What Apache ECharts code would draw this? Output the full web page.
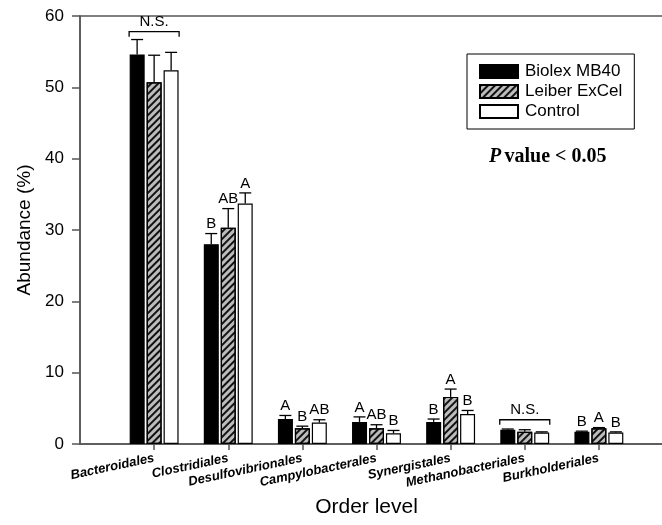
<!DOCTYPE html>
<html><head><meta charset="utf-8">
<script src="https://cdn.jsdelivr.net/npm/echarts@6/dist/echarts.min.js"></script>
<style>html,body{margin:0;padding:0;background:#fff}#c{width:662px;height:525px}</style>
</head><body><div id="c"></div>
<script>
var categories = ['Bacteroidales','Clostridiales','Desulfovibrionales','Campylobacterales','Synergistales','Methanobacteriales','Burkholderiales'];
var seriesNames = ['Biolex MB40','Leiber ExCel','Control'];
var biolex = [54.6, 28.0, 3.5, 3.1, 3.1, 2.0, 1.7];
var leiber = [50.7, 30.3, 2.2, 2.2, 6.6, 1.7, 2.2];
var control = [52.4, 33.7, 3.0, 1.5, 4.2, 1.6, 1.6];
var biolexErr = [2.1, 1.5, 0.5, 0.7, 0.4, 0.1, 0.1];
var leiberErr = [3.8, 2.7, 0.3, 0.5, 1.1, 0.3, 0.1];
var controlErr = [2.5, 1.5, 0.4, 0.4, 0.5, 0.1, 0.1];
var biolexLetters = ['', 'B', 'A', 'A', 'B', '', 'B'];
var leiberLetters = ['', 'AB', 'B', 'AB', 'A', '', 'A'];
var controlLetters = ['', 'A', 'AB', 'B', 'B', '', 'B'];
var nsGroups = [0, 5];
var nsLevels = [57.8, 3.4];
var yTicks = [0, 10, 20, 30, 40, 50, 60];

var axisCats = [''].concat(categories).concat(['']);
function pad(a){ return [null].concat(a).concat([null]); }

var chart = echarts.init(document.getElementById('c'));
var vals = [biolex, leiber, control];
var errs = [biolexErr, leiberErr, controlErr];
var lets = [biolexLetters, leiberLetters, controlLetters];
var styles = [
  {color:'#000', borderColor:'#000', borderWidth:1.2},
  {color:'#bcbcbc', borderColor:'#000', borderWidth:1.2, decal:{symbol:'rect', dashArrayX:[1,0], dashArrayY:[1.2,2.8], rotation:-Math.PI/4, color:'#111', symbolSize:1}},
  {color:'#fff', borderColor:'#000', borderWidth:1.2}
];
var offsets = [-17, 0, 17];

var series = [];
for (var s = 0; s < 3; s++) {
  series.push({
    name: seriesNames[s], type: 'bar', data: pad(vals[s]),
    barWidth: 15, barGap: '13%', itemStyle: styles[s], z: 2
  });
}
var errData = [];
for (var s2 = 0; s2 < 3; s2++) for (var i = 0; i < categories.length; i++) {
  errData.push([i + 1, vals[s2][i], vals[s2][i] + errs[s2][i], s2, lets[s2][i]]);
}
series.push({
  type: 'custom', data: errData, z: 5, silent: true,
  renderItem: function(params, api){
    var ci = api.value(0), s = api.value(3);
    var p0 = api.coord([ci, api.value(1)]);
    var p1 = api.coord([ci, api.value(2)]);
    var x = p0[0] + offsets[s];
    var letter = errData[params.dataIndex][4];
    var ch = [
      {type:'line', shape:{x1:x, y1:p0[1], x2:x, y2:p1[1]}, style:{stroke:'#000', lineWidth:1.3}},
      {type:'line', shape:{x1:x-6, y1:p1[1], x2:x+6, y2:p1[1]}, style:{stroke:'#000', lineWidth:1.3}}
    ];
    if (letter) ch.push({type:'text', x:x, y:p1[1]-2, style:{text:letter, fill:'#000', font:'15px "Liberation Sans", Arial, sans-serif', align:'center', verticalAlign:'bottom'}});
    return {type:'group', children: ch};
  }
});
var nsData = nsGroups.map(function(g, k){ return [g + 1, nsLevels[k]]; });
series.push({
  type: 'custom', data: nsData, z: 5, silent: true,
  renderItem: function(params, api){
    var p = api.coord([api.value(0), api.value(1)]);
    var xl = p[0] - 25, xr = p[0] + 25, y = p[1];
    return {type:'group', children:[
      {type:'polyline', shape:{points:[[xl, y+5],[xl, y],[xr, y],[xr, y+5]]}, style:{stroke:'#000', lineWidth:1.3, fill:null}},
      {type:'text', x:p[0], y:y-2, style:{text:'N.S.', fill:'#000', font:'15px "Liberation Sans", Arial, sans-serif', align:'center', verticalAlign:'bottom'}}
    ]};
  }
});

chart.setOption({
  animation: false,
  grid: {left: 80, top: 16, right: -11, bottom: 81, show: true, borderColor: '#555', borderWidth: 1.5, containLabel: false, outerBoundsMode: 'none'},
  legend: {
    data: seriesNames, orient: 'vertical', left: 467, top: 54,
    itemWidth: 38, itemHeight: 13, itemGap: 3, padding: [9, 12, 9, 12],
    borderColor: '#000', borderWidth: 1, icon: 'rect',
    textStyle: {fontSize: 17, fontFamily: '"Liberation Sans", Arial, sans-serif', color: '#000', padding:[0,0,0,2]}
  },
  xAxis: {
    type: 'category', data: axisCats, boundaryGap: false,
    name: 'Order level', nameLocation: 'middle', nameGap: 53,
    nameTextStyle: {fontSize: 21, fontFamily: '"Liberation Sans", Arial, sans-serif', color: '#000', padding: [0, 20, 0, 0]},
    axisLine: {lineStyle: {color: '#555', width: 1.5}},
    axisTick: {length: 6, lineStyle: {color: '#555', width: 1.5}, interval: function(i, v){ return v !== ''; }},
    axisLabel: {interval: 0, rotate: 12, margin: 14, fontSize: 13, fontWeight: 'bold', fontStyle: 'italic', color: '#000', fontFamily: '"Liberation Sans", Arial, sans-serif', hideOverlap: false, padding: [0, 0, 0, 6]},
    splitLine: {show: false}
  },
  yAxis: {
    type: 'value', min: yTicks[0], max: yTicks[yTicks.length-1], interval: 10,
    name: 'Abundance (%)', nameLocation: 'middle', nameGap: 44,
    nameTextStyle: {fontSize: 19, fontFamily: '"Liberation Sans", Arial, sans-serif', color: '#000'},
    axisLine: {show: true, lineStyle: {color: '#555', width: 1.5}},
    axisTick: {show: true, length: 8, lineStyle: {color: '#555', width: 1.5}},
    axisLabel: {fontSize: 17, color: '#000', margin: 16, fontFamily: '"Liberation Sans", Arial, sans-serif'},
    splitLine: {show: false}
  },
  graphic: [{
    type: 'text', left: 489, top: 147,
    style: {text: '{p|P} {b|value < 0.05}', rich: {
      p: {font: 'italic bold 20px "Liberation Serif", "Times New Roman", serif', fill:'#000'},
      b: {font: 'bold 20px "Liberation Serif", "Times New Roman", serif', fill:'#000'}
    }}
  }],
  series: series
});
</script></body></html>
